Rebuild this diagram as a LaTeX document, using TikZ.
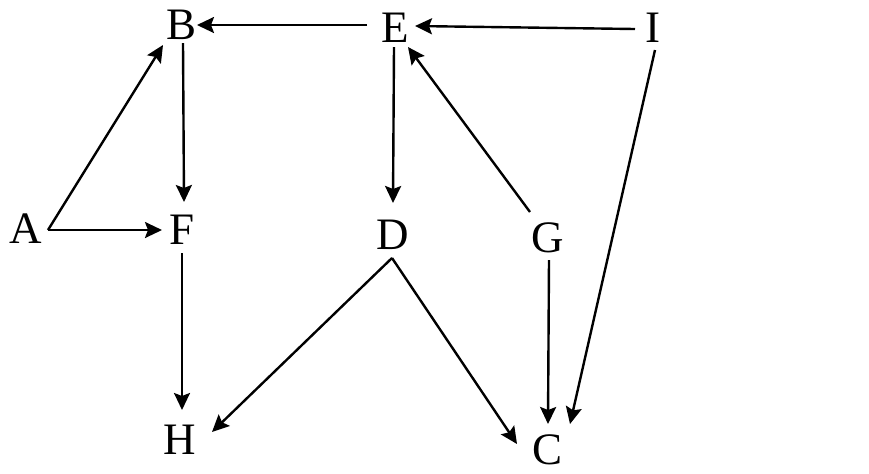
\documentclass[tikz,border=0pt]{standalone}
\usepackage{fontspec}
\setmainfont{Liberation Serif}
\usetikzlibrary{calc,arrows.meta}
\begin{document}
\begin{tikzpicture}[x=0.5pt,y=-0.5pt,
  lbl/.style={inner sep=0pt,font=\fontsize{22.5}{27}\selectfont},
  arr/.style={line width=1.2pt,-{Stealth[length=8.5pt,width=8pt,inset=1.5pt]}}]
\useasboundingbox (0,0) rectangle (869,473);
\node[lbl] (A) at (26,229) {A};
\node[lbl] (B) at (182,25) {B};
\node[lbl] (E) at (395,28) {E};
\node[lbl] (I) at (653,28) {I};
\node[lbl] (F) at (182,230) {F};
\node[lbl] (D) at (393,235) {D};
\node[lbl] (G) at (548,238) {G};
\node[lbl] (H) at (180,440) {H};
\node[lbl] (C) at (548,450) {C};
\draw[arr] ($(A)+(22,1)$) -- ($(B)+(-19,20)$);
\draw[arr] ($(A)+(22,1)$) -- ($(F)+(-20,0)$);
\draw[arr] ($(B)+(1,18)$) -- ($(F)+(2,-28)$);
\draw[arr] ($(E)+(-28,-3)$) -- ($(B)+(15,0)$);
\draw[arr] ($(I)+(-18,1)$) -- ($(E)+(20,-2)$);
\draw[arr] ($(E)+(-1,19)$) -- ($(D)+(0,-32)$);
\draw[arr] ($(G)+(-18,-26)$) -- ($(E)+(13,19)$);
\draw[arr] ($(I)+(2,22)$) -- ($(C)+(22,-26)$);
\draw[arr] ($(G)+(1,22)$) -- ($(C)+(0,-26)$);
\draw[arr] ($(F)+(0,23)$) -- ($(H)+(2,-30)$);
\draw[arr] ($(D)+(-1,23)$) -- ($(H)+(32,-8)$);
\draw[arr] ($(D)+(-1,23)$) -- ($(C)+(-31,-6)$);
\end{tikzpicture}
\end{document}
